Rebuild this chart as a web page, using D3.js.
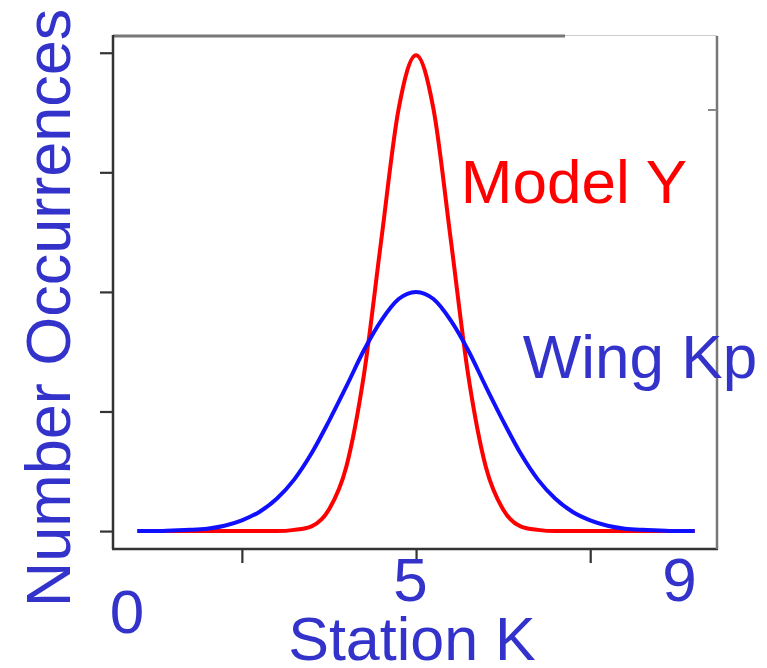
<!DOCTYPE html>
<html>
<head>
<meta charset="utf-8">
<script src="https://cdn.jsdelivr.net/npm/d3@7"></script>
<style>
  html, body { margin: 0; padding: 0; background: #fff; }
  svg { display: block; font-family: "Liberation Sans", Arial, sans-serif; }
</style>
</head>
<body>
<div id="chart"></div>
<script>
(function () {
  // Station K values the curves were sampled at
  const kValues = [1, 1.25, 1.5, 1.75, 2, 2.25, 2.5, 2.75, 3, 3.25, 3.5, 3.75, 4, 4.25, 4.5, 4.75,
    5, 5.25, 5.5, 5.75, 6, 6.25, 6.5, 6.75, 7, 7.25, 7.5, 7.75, 8, 8.25, 8.5, 8.75, 9];
  // occurrences
  const modelY = [0, 0, 0, 0, 0, 0, 0, 0, 0, 0.01, 0.04, 0.18, 0.54, 1.3, 2.43, 3.53,
    3.98, 3.53, 2.43, 1.3, 0.54, 0.18, 0.04, 0.01, 0, 0, 0, 0, 0, 0, 0, 0, 0];
  const wingKp = [0, 0, 0.005, 0.01, 0.02, 0.045, 0.09, 0.16, 0.27, 0.43, 0.65, 0.92, 1.21, 1.51, 1.76, 1.94,
    2.0, 1.94, 1.76, 1.51, 1.21, 0.92, 0.65, 0.43, 0.27, 0.16, 0.09, 0.045, 0.02, 0.01, 0.005, 0, 0];
  const yTicks = [0, 1, 2, 3, 4];
  const xTicks = [2.5, 5, 7.5];
  const xTickLabels = ["0", "5", "9"];
  const xTickLabelAt = [0.85, 4.92, 8.78];

  const width = 767, height = 668;
  const frame = { left: 113, right: 717, top: 36, bottom: 549 };
  const blueText = "#3333cc";

  const x = d3.scaleLinear().domain([0.65, 9.32]).range([frame.left, frame.right]);
  const y = d3.scaleLinear().domain([-0.15, 4.14]).range([frame.bottom, frame.top]);

  const svg = d3.select("#chart").append("svg").attr("width", width).attr("height", height);

  // axes (ticks only, frame drawn separately)
  const yAxis = svg.append("g")
    .attr("transform", `translate(${frame.left},0)`)
    .call(d3.axisLeft(y).tickValues(yTicks).tickSize(13).tickFormat(""));
  const xAxis = svg.append("g")
    .attr("transform", `translate(0,${frame.bottom})`)
    .call(d3.axisBottom(x).tickValues(xTicks).tickSize(14).tickFormat(""));
  [yAxis, xAxis].forEach((g) => {
    g.select(".domain").remove();
    g.selectAll(".tick line").attr("stroke", "#333").attr("stroke-width", 2.2);
  });

  // plot frame
  const edge = (x1, y1, x2, y2, c, w) =>
    svg.append("line").attr("x1", x1).attr("y1", y1).attr("x2", x2).attr("y2", y2)
      .attr("stroke", c).attr("stroke-width", w);
  edge(frame.left, frame.top, 565, frame.top, "#777", 3);
  edge(565, frame.top - 0.5, frame.right, frame.top - 0.5, "#ccc", 1);
  edge(frame.left, frame.top - 1, frame.left, frame.bottom, "#333", 2.5);
  edge(frame.left - 1, frame.bottom, frame.right + 1, frame.bottom, "#333", 2.5);
  edge(frame.right, frame.top, frame.right, frame.bottom, "#777", 2.5);
  edge(708, 110, frame.right, 110, "#888", 2);

  const line = (vals) => d3.line()
    .x((d, i) => x(kValues[i]))
    .y((d) => y(d))
    .curve(d3.curveMonotoneX)(vals);

  svg.append("path").attr("d", line(modelY))
    .attr("fill", "none").attr("stroke", "#ff0000").attr("stroke-width", 4);
  svg.append("path").attr("d", line(wingKp))
    .attr("fill", "none").attr("stroke", "#1010ff").attr("stroke-width", 4);

  // tick labels
  svg.selectAll(".xlab")
    .data(xTickLabels)
    .join("text")
    .attr("class", "xlab")
    .attr("x", (d, i) => x(xTickLabelAt[i]))
    .attr("y", (d, i) => (i === 0 ? 633 : 601))
    .attr("text-anchor", "middle")
    .attr("font-size", 62)
    .attr("fill", blueText)
    .text((d) => d);

  // axis titles
  svg.append("text")
    .attr("x", 412).attr("y", 660)
    .attr("text-anchor", "middle")
    .attr("font-size", 61)
    .attr("fill", blueText)
    .text("Station K");

  svg.append("text")
    .attr("transform", "translate(70,308) rotate(-90)")
    .attr("text-anchor", "middle")
    .attr("font-size", 63)
    .attr("fill", blueText)
    .text("Number Occurrences");

  // series labels
  svg.append("text")
    .attr("x", 574).attr("y", 203)
    .attr("text-anchor", "middle")
    .attr("font-size", 62)
    .attr("fill", "#ff0000")
    .text("Model Y");

  svg.append("text")
    .attr("x", 640).attr("y", 378)
    .attr("text-anchor", "middle")
    .attr("font-size", 62)
    .attr("fill", blueText)
    .text("Wing Kp");
})();
</script>
</body>
</html>
